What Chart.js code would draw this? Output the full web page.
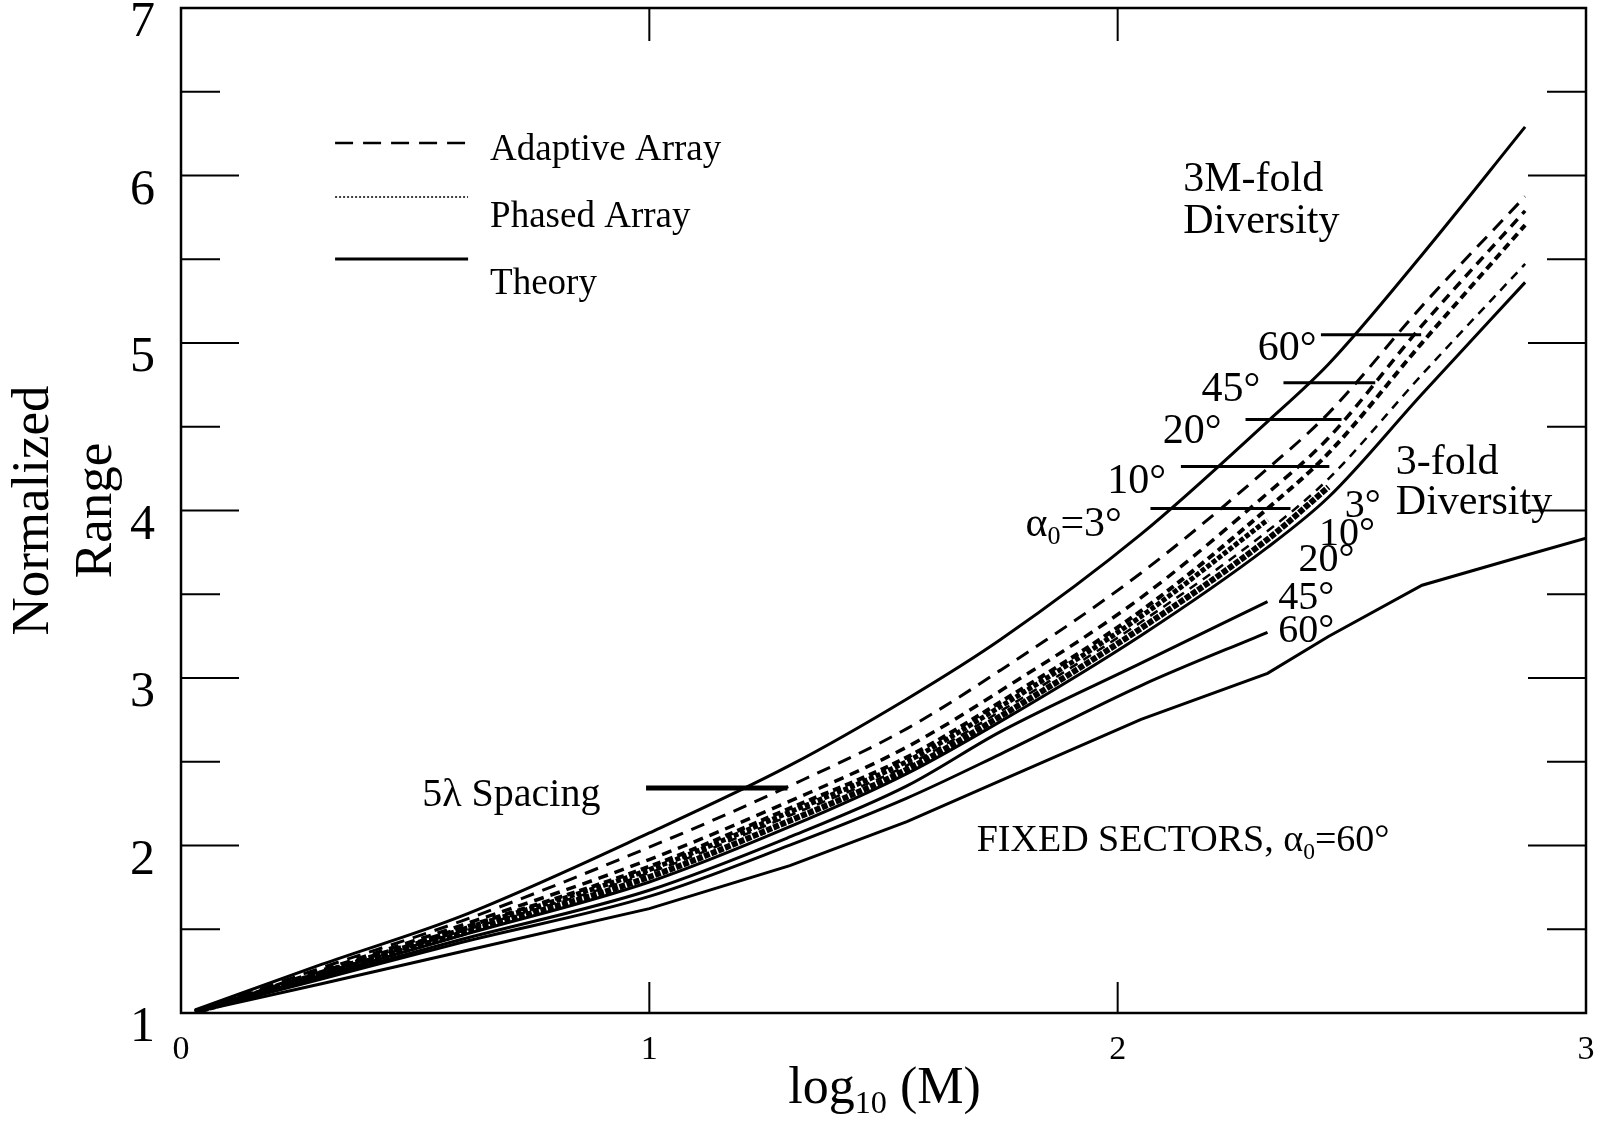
<!DOCTYPE html>
<html>
<head>
<meta charset="utf-8">
<title>Normalized Range vs log10(M)</title>
<script src="https://cdn.jsdelivr.net/npm/chart.js@4.4.1/dist/chart.umd.min.js"></script>
<style>
  html, body { margin: 0; padding: 0; background: #fff; }
  #wrap { width: 1604px; height: 1121px; }
</style>
</head>
<body>
<div id="wrap"><canvas id="chart" width="1604" height="1121"></canvas></div>
<script>
// ==========================================================
// data (x = log10 M, y = normalized range)
// ==========================================================
const logM = [0.03, 0.3, 0.6, 1.0, 1.3, 1.55, 1.75, 2.05, 2.32, 2.45, 2.65, 2.87, 3.0];

// 3M-fold diversity, theory
const theory3M   = [1.018, 1.290, 1.580, 2.075, 2.478, 2.875, 3.230, 3.859, 4.531, 4.873, 5.527, 6.290, null];
// adaptive array curves (dashed)
const adaptive1  = [1.006, 1.270, 1.550, 1.990, 2.356, 2.698, 3.047, 3.627, 4.250, 4.580, 5.221, 5.875, null];
const adaptive2  = [1.006, 1.255, 1.525, 1.916, 2.265, 2.588, 2.924, 3.480, 4.103, 4.433, 5.105, 5.789, null];
const adaptive3  = [1.006, 1.245, 1.507, 1.874, 2.222, 2.527, 2.857, 3.401, 4.012, 4.342, 5.001, 5.704, null];
const adaptive4  = [1.006, 1.235, 1.489, 1.837, 2.179, 2.478, 2.802, 3.334, 3.877, 4.189, 4.812, 5.472, null];
// phased array band
const phased1    = [1.006, 1.229, 1.476, 1.812, 2.148, 2.454, 2.772, 3.297, 3.828, 4.140, null, null, null];
const phased2    = [1.006, 1.240, 1.498, 1.856, 2.200, 2.502, 2.830, 3.368, 3.944, null, null, null, null];
// 3-fold diversity, theory
const theory3    = [1.006, 1.223, 1.464, 1.782, 2.112, 2.429, 2.741, 3.254, 3.780, 4.079, 4.696, 5.362, null];
const threeFold45 = [1.006, 1.212, 1.440, 1.733, 2.051, 2.356, 2.680, 3.089, 3.456, null, null, null, null];
const threeFold60 = [1.006, 1.203, 1.422, 1.696, 2.002, 2.283, 2.546, 2.955, 3.273, null, null, null, null];
// fixed sectors, alpha0 = 60
const fixedSectors = [1.006, 1.175, 1.367, 1.623, 1.880, 2.142, 2.387, 2.753, 3.028, 3.248, 3.554, 3.731, 3.835];

// leader lines for the alpha labels
const leaderY  = [5.050, 4.763, 4.543, 4.262, 4.012];
const leaderX0 = [2.434, 2.354, 2.273, 2.135, 2.070];
const leaderX1 = [2.648, 2.550, 2.478, 2.452, 2.369];
const spacingLeaderX = [0.993, 1.295];
const spacingLeaderY = 2.344;

// legend samples
const legendX = [0.329, 0.613];
const legendY = [6.194, 5.872, 5.501];

// ticks
const xTicks = [0, 1, 2, 3];
const yTicks = [1, 2, 3, 4, 5, 6, 7];
const yMinorTicks = [1.5, 2.5, 3.5, 4.5, 5.5, 6.5];

const SERIF = '"Liberation Serif", "Times New Roman", serif';

// ==========================================================
// datasets
// ==========================================================
function toPoints(ys) {
  return logM.map((x, i) => ys[i] == null ? null : { x: x, y: ys[i] }).filter(Boolean);
}

function curve(label, ys, width, dash, linear) {
  return {
    label: label,
    data: toPoints(ys),
    borderColor: '#000',
    borderWidth: width,
    borderDash: dash || [],
    pointRadius: 0,
    fill: false,
    tension: 0,
    cubicInterpolationMode: linear ? 'default' : 'monotone'
  };
}

function segment(label, x0, x1, y, width, dash) {
  return {
    label: label,
    data: [{ x: x0, y: y }, { x: x1, y: y }],
    borderColor: '#000',
    borderWidth: width,
    borderDash: dash || [],
    pointRadius: 0,
    fill: false,
    tension: 0
  };
}

const datasets = [
  curve('3M-fold theory', theory3M, 3),
  curve('Adaptive 1', adaptive1, 3, [14, 9]),
  curve('Adaptive 2', adaptive2, 3.5, [10, 7]),
  curve('Adaptive 3', adaptive3, 4, [8, 5]),
  curve('Adaptive 4', adaptive4, 2.5, [9, 7]),
  curve('Phased 1', phased1, 6, [6, 1.5]),
  curve('Phased 2', phased2, 5, [5, 2]),
  curve('3-fold theory', theory3, 3),
  curve('3-fold 45', threeFold45, 3),
  curve('3-fold 60', threeFold60, 3),
  curve('Fixed sectors', fixedSectors, 3, [], true),
  segment('5 lambda', spacingLeaderX[0], spacingLeaderX[1], spacingLeaderY, 5),
  segment('legend adaptive', legendX[0], legendX[1], legendY[0], 2.5, [18, 10]),
  segment('legend phased', legendX[0], legendX[1], legendY[1], 1.5, [2, 2]),
  segment('legend theory', legendX[0], legendX[1], legendY[2], 3)
];
leaderY.forEach(function(v, i) {
  datasets.push(segment('leader ' + i, leaderX0[i], leaderX1[i], v, 3));
});

// ==========================================================
// texts placed in data coordinates
// ==========================================================
const notes = [
  { parts: [{ t: 'Adaptive Array' }], x: 0.660, y: 6.150, size: 37 },
  { parts: [{ t: 'Phased Array' }], x: 0.660, y: 5.753, size: 37 },
  { parts: [{ t: 'Theory' }], x: 0.660, y: 5.349, size: 37 },
  { parts: [{ t: '3M-fold' }], x: 2.140, y: 5.972, size: 42 },
  { parts: [{ t: 'Diversity' }], x: 2.140, y: 5.722, size: 42 },
  { parts: [{ t: '60°' }], x: 2.299, y: 4.965, size: 42 },
  { parts: [{ t: '45°' }], x: 2.179, y: 4.720, size: 42 },
  { parts: [{ t: '20°' }], x: 2.096, y: 4.470, size: 42 },
  { parts: [{ t: '10°' }], x: 1.978, y: 4.170, size: 42 },
  { parts: [{ t: 'α' }, { t: '0', sub: true }, { t: '=3°' }], x: 1.803, y: 3.914, size: 42 },
  { parts: [{ t: '3-fold' }], x: 2.594, y: 4.286, size: 42 },
  { parts: [{ t: 'Diversity' }], x: 2.594, y: 4.042, size: 42 },
  { parts: [{ t: '3°' }], x: 2.485, y: 4.024, size: 40 },
  { parts: [{ t: '10°' }], x: 2.430, y: 3.859, size: 40 },
  { parts: [{ t: '20°' }], x: 2.386, y: 3.700, size: 40 },
  { parts: [{ t: '45°' }], x: 2.343, y: 3.474, size: 40 },
  { parts: [{ t: '60°' }], x: 2.343, y: 3.279, size: 40 },
  { parts: [{ t: '5λ Spacing' }], x: 0.515, y: 2.301, size: 40 },
  { parts: [{ t: 'FIXED SECTORS, ' }, { t: 'α' }, { t: '0', sub: true }, { t: '=60°' }], x: 1.699, y: 2.026, size: 38 }
];

function richWidth(ctx, parts, size) {
  let w = 0;
  parts.forEach(function(p) {
    ctx.font = (p.sub ? size * 0.62 : size) + 'px ' + SERIF;
    w += ctx.measureText(p.t).width;
  });
  return w;
}

function drawRich(ctx, parts, x, y, size) {
  let cx = x;
  parts.forEach(function(p) {
    const s = p.sub ? size * 0.62 : size;
    ctx.font = s + 'px ' + SERIF;
    ctx.fillText(p.t, cx, y + (p.sub ? size * 0.3 : 0));
    cx += ctx.measureText(p.t).width;
  });
}

// frame, inward ticks, notes and the x title
const decorations = {
  id: 'decorations',
  afterDraw(chart) {
    const ctx = chart.ctx;
    const a = chart.chartArea;
    const xs = chart.scales.x;
    const ys = chart.scales.y;
    ctx.save();
    ctx.strokeStyle = '#000';
    ctx.lineWidth = 2.5;
    ctx.strokeRect(a.left, a.top, a.right - a.left, a.bottom - a.top);

    ctx.lineWidth = 2;
    ctx.beginPath();
    yTicks.slice(1, -1).forEach(function(v) {
      const py = ys.getPixelForValue(v);
      ctx.moveTo(a.left, py); ctx.lineTo(a.left + 58, py);
      ctx.moveTo(a.right, py); ctx.lineTo(a.right - 58, py);
    });
    yMinorTicks.forEach(function(v) {
      const py = ys.getPixelForValue(v);
      ctx.moveTo(a.left, py); ctx.lineTo(a.left + 39, py);
      ctx.moveTo(a.right, py); ctx.lineTo(a.right - 39, py);
    });
    xTicks.slice(1, -1).forEach(function(v) {
      const px = xs.getPixelForValue(v);
      ctx.moveTo(px, a.bottom); ctx.lineTo(px, a.bottom - 31);
      ctx.moveTo(px, a.top); ctx.lineTo(px, a.top + 33);
    });
    ctx.stroke();

    ctx.fillStyle = '#000';
    ctx.textAlign = 'left';
    ctx.textBaseline = 'middle';
    notes.forEach(function(n) {
      drawRich(ctx, n.parts, xs.getPixelForValue(n.x), ys.getPixelForValue(n.y), n.size);
    });

    // x axis title with subscript
    const title = [{ t: 'log' }, { t: '10', sub: true }, { t: ' (M)' }];
    const w = richWidth(ctx, title, 52);
    const cx = (a.left + a.right) / 2 + 1;
    drawRich(ctx, title, cx - w / 2, 1089, 52);
    ctx.restore();
  }
};

// ==========================================================
// chart
// ==========================================================
new Chart(document.getElementById('chart'), {
  type: 'line',
  data: { datasets: datasets },
  options: {
    responsive: false,
    animation: false,
    devicePixelRatio: 1,
    layout: { padding: { top: 8, right: 18, left: 0, bottom: 0 } },
    plugins: { legend: { display: false }, tooltip: { enabled: false } },
    scales: {
      x: {
        type: 'linear',
        min: 0, max: 3,
        grid: { display: false, drawTicks: false },
        border: { display: false },
        afterBuildTicks: function(scale) { scale.ticks = xTicks.map(v => ({ value: v })); },
        ticks: { padding: 17, color: '#000', font: { family: SERIF, size: 34 } },
        afterFit: function(scale) { scale.height = 108; scale.paddingLeft = 0; scale.paddingRight = 0; }
      },
      y: {
        type: 'linear',
        min: 1, max: 7,
        grid: { display: false, drawTicks: false },
        border: { display: false },
        afterBuildTicks: function(scale) { scale.ticks = yTicks.map(v => ({ value: v })); },
        ticks: { padding: 26, labelOffset: 15, color: '#000', font: { family: SERIF, size: 50 } },
        title: {
          display: true,
          text: ['Normalized', 'Range'],
          color: '#000',
          font: { family: SERIF, size: 53, lineHeight: 1.2 },
          padding: { top: 2, bottom: 0 }
        },
        afterFit: function(scale) { scale.width = 181; scale.paddingTop = 0; scale.paddingBottom = 0; }
      }
    }
  },
  plugins: [decorations]
});
</script>
</body>
</html>
